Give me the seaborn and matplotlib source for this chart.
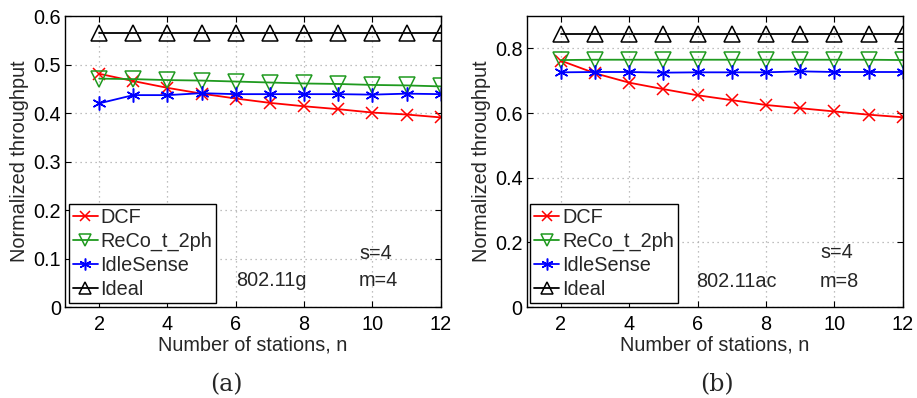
import matplotlib
matplotlib.use("Agg")
import matplotlib.pyplot as plt
import seaborn as sns
import numpy as np
import pandas as pd

sns.set_theme(style="white")
plt.rcParams['font.family'] = ['Liberation Sans', 'DejaVu Sans']

n = [2, 3, 4, 5, 6, 7, 8, 9, 10, 11, 12]
series_names = ["DCF", "ReCo_t_2ph", "IdleSense", "Ideal"]

# (a) 802.11g
g_dcf   = [0.481, 0.466, 0.452, 0.440, 0.430, 0.421, 0.414, 0.408, 0.401, 0.397, 0.391]
g_reco  = [0.471, 0.470, 0.468, 0.467, 0.465, 0.463, 0.461, 0.460, 0.458, 0.457, 0.455]
g_idle  = [0.420, 0.437, 0.437, 0.441, 0.439, 0.439, 0.439, 0.439, 0.438, 0.440, 0.439]
g_ideal = [0.566, 0.566, 0.566, 0.566, 0.566, 0.566, 0.566, 0.566, 0.566, 0.566, 0.566]

# (b) 802.11ac
ac_dcf   = [0.762, 0.723, 0.694, 0.674, 0.655, 0.640, 0.625, 0.615, 0.605, 0.595, 0.587]
ac_reco  = [0.764, 0.765, 0.765, 0.765, 0.765, 0.765, 0.765, 0.765, 0.765, 0.765, 0.764]
ac_idle  = [0.726, 0.727, 0.727, 0.725, 0.726, 0.726, 0.726, 0.729, 0.727, 0.727, 0.727]
ac_ideal = [0.846, 0.846, 0.846, 0.846, 0.846, 0.846, 0.846, 0.846, 0.846, 0.846, 0.846]

x_ticks = [2, 4, 6, 8, 10, 12]
yticks_a = [0, 0.1, 0.2, 0.3, 0.4, 0.5, 0.6]
yticks_b = [0, 0.2, 0.4, 0.6, 0.8]

colors = ["#ff0000", "#1f9a1f", "#0000ff", "#000000"]
asterisk = (6, 2, 0)
markers = ["x", "v", asterisk, "^"]
msizes = [8, 11, 10, 11]
facecols = ["#ff0000", "none", "#0000ff", "none"]

FS = 14.3

fig = plt.figure(figsize=(9.17, 3.98), dpi=100)
ax1 = fig.add_axes([0.0709, 0.2286, 0.4097, 0.731])
ax2 = fig.add_axes([0.5744, 0.2286, 0.4100, 0.731])

def draw(ax, data, ylim, yticks, yfmt, t1, t2, t3, pos1, pos2, pos3):
    for name, vals, c, m, ms, fc in zip(series_names, data, colors, markers, msizes, facecols):
        df = pd.DataFrame({"n": n, "v": vals})
        sns.lineplot(data=df, x="n", y="v", ax=ax, color=c, marker=m, markersize=ms,
                     markerfacecolor=fc, markeredgecolor=c, markeredgewidth=1.1,
                     linewidth=1.3, label=name)
    ax.set_xlim(1, 12)
    ax.set_ylim(*ylim)
    ax.set_xticks(x_ticks)
    ax.set_yticks(yticks)
    ax.set_yticklabels([yfmt(v) for v in yticks])
    ax.grid(True, color="#aaaaaa", linestyle=(0, (1, 3)), linewidth=0.9)
    ax.tick_params(direction="in", length=4, width=0.8, labelsize=FS, colors="black",
                   top=True, right=True, bottom=True, left=True, pad=3)
    ax.tick_params(axis="x", pad=6)
    for sp in ax.spines.values():
        sp.set_color("black")
        sp.set_linewidth(1.0)
    ax.set_xlabel("Number of stations, n", fontsize=FS, labelpad=1)
    ax.set_ylabel("Normalized throughput", fontsize=FS, labelpad=3)
    ax.text(pos1[0], pos1[1], t1, fontsize=FS, va="center", ha="left")
    ax.text(pos2[0], pos2[1], t2, fontsize=FS, va="center", ha="left")
    ax.text(pos3[0], pos3[1], t3, fontsize=FS, va="center", ha="left")
    leg = ax.legend(loc="lower left", bbox_to_anchor=(0.01, 0.013), borderaxespad=0,
                    fontsize=FS, frameon=True, fancybox=False, edgecolor="black",
                    framealpha=1, handlelength=1.25, handletextpad=0.15,
                    labelspacing=0.25, borderpad=0.2, markerscale=0.85)
    leg.get_frame().set_linewidth(1.0)

draw(ax1, [g_dcf, g_reco, g_idle, g_ideal], (0, 0.6), yticks_a,
     lambda v: "0" if v == 0 else f"{v:.1f}",
     "s=4", "802.11g", "m=4", (9.63, 0.111), (6.0, 0.054), (9.6, 0.054))
draw(ax2, [ac_dcf, ac_reco, ac_idle, ac_ideal], (0, 0.9), yticks_b,
     lambda v: "0" if v == 0 else f"{v:.1f}",
     "s=4", "802.11ac", "m=8", (9.58, 0.168), (5.97, 0.080), (9.58, 0.080))

fig.text(226 / 917, 1 - 385 / 398, "(a)", fontsize=17, ha="center", va="center",
         family=["DejaVu Serif"])
fig.text(717 / 917, 1 - 385 / 398, "(b)", fontsize=17, ha="center", va="center",
         family=["DejaVu Serif"])

fig.savefig("out.png", dpi=100)
